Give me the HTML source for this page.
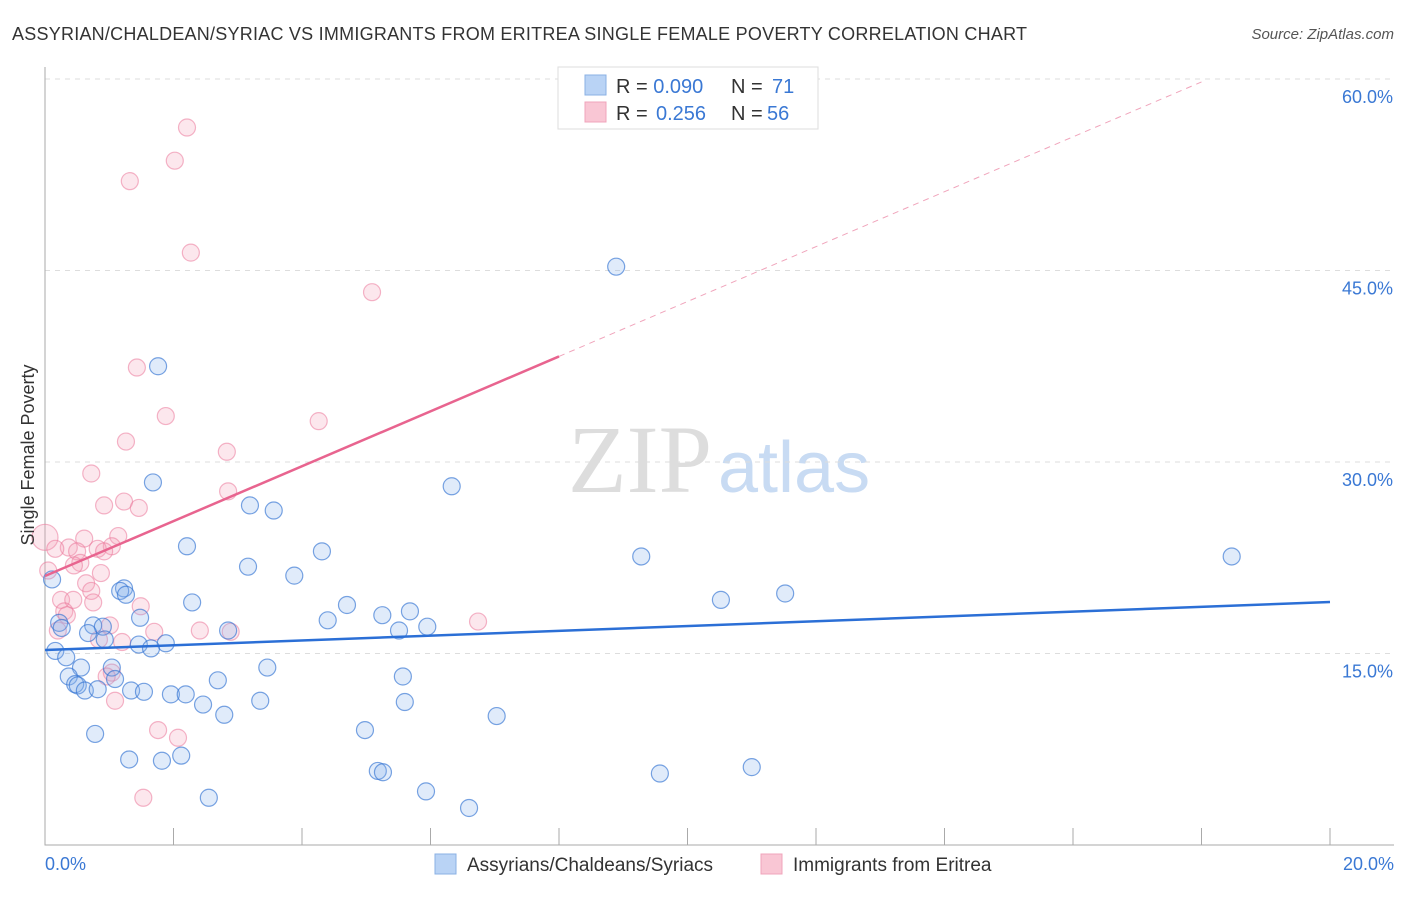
<!DOCTYPE html>
<html><head><meta charset="utf-8"><style>
body{margin:0;background:#fff;font-family:"Liberation Sans",sans-serif}
</style></head><body>
<svg id="c" width="1406" height="892" xmlns="http://www.w3.org/2000/svg">
<text x="12" y="40" font-size="18" fill="#333" textLength="1015">ASSYRIAN/CHALDEAN/SYRIAC VS IMMIGRANTS FROM ERITREA SINGLE FEMALE POVERTY CORRELATION CHART</text>
<text x="1394" y="39" font-size="15" fill="#555" font-style="italic" text-anchor="end">Source: ZipAtlas.com</text>
<text x="712" y="492" font-size="96" fill="#ddd" font-family="Liberation Serif" text-anchor="end">ZIP</text>
<text x="718" y="492" font-size="72" fill="#c8dbf3">atlas</text>
<g id="grid"></g>
<g id="axes"></g>
<g id="pts"></g>
<g id="lines"></g>
<text transform="translate(34,455) rotate(-90)" font-size="18" fill="#333" text-anchor="middle">Single Female Poverty</text>
<text x="45" y="870" font-size="18" fill="#3a78d4">0.0%</text>
<text x="1394" y="870" font-size="18" fill="#3a78d4" text-anchor="end">20.0%</text>
<g>
<rect x="558" y="67" width="260" height="62" fill="#fff" stroke="#ddd"/>
<rect x="585" y="75" width="21" height="20" fill="#b9d3f5" stroke="#8ab0e4"/>
<rect x="585" y="102" width="21" height="20" fill="#f9c6d4" stroke="#f0a4bb"/>
<text x="616" y="93" font-size="20" fill="#333">R = <tspan fill="#3a78d4">0.090</tspan><tspan x="731">N = </tspan><tspan x="772" fill="#3a78d4">71</tspan></text>
<text x="616" y="120" font-size="20" fill="#333">R = <tspan x="656" fill="#3a78d4">0.256</tspan><tspan x="731">N = </tspan><tspan x="767" fill="#3a78d4">56</tspan></text>
</g>
<g>
<rect x="435" y="854" width="21" height="20" fill="#b9d3f5" stroke="#8ab0e4"/>
<text x="467" y="871" font-size="19" fill="#333">Assyrians/Chaldeans/Syriacs</text>
<rect x="761" y="854" width="21" height="20" fill="#f9c6d4" stroke="#f0a4bb"/>
<text x="793" y="871" font-size="19" fill="#333">Immigrants from Eritrea</text>
</g>
</svg>
<script>
const yTicks=[15,30,45,60];
const yTickLabels=["15.0%","30.0%","45.0%","60.0%"];
const xTicks=[0,2,4,6,8,10,12,14,16,18,20];
const blueX=[8.89,1.76,1.68,6.33,3.19,3.56,2.21,4.31,9.28,18.47,3.16,3.88,0.11,1.23,1.17,1.26,11.52,10.52,2.29,4.70,5.25,5.68,1.48,4.40,0.22,0.26,0.75,0.90,2.85,5.95,5.51,0.67,0.93,1.88,1.46,1.65,0.16,0.33,0.56,1.04,3.46,0.37,5.57,1.09,2.69,0.47,0.51,0.62,0.82,1.34,1.54,1.96,2.19,3.35,2.46,5.60,2.79,7.03,4.98,0.78,2.12,1.31,1.82,11.0,5.18,5.26,9.57,2.55,5.93,6.60];
const blueY=[45.3,37.5,28.4,28.1,26.6,26.2,23.4,23.0,22.6,22.6,21.8,21.1,20.8,20.1,19.9,19.6,19.7,19.2,19.0,18.8,18.0,18.3,17.8,17.6,17.4,17.0,17.2,17.1,16.8,17.1,16.8,16.6,16.1,15.8,15.7,15.4,15.2,14.7,13.9,13.9,13.9,13.2,13.2,13.0,12.9,12.6,12.5,12.1,12.2,12.1,12.0,11.8,11.8,11.3,11.0,11.2,10.2,10.1,9.0,8.7,7.0,6.7,6.6,6.1,5.8,5.7,5.6,3.7,4.2,2.9];
const pinkX=[2.21,2.02,1.32,2.27,5.09,1.43,1.88,4.26,1.26,2.83,0.72,2.85,1.23,0.92,1.46,0.0,1.14,0.61,1.04,0.37,0.16,0.50,0.82,0.92,0.55,0.45,0.05,0.87,0.64,0.72,0.25,0.44,0.75,0.30,1.49,0.34,0.20,6.74,2.89,2.41,1.70,1.01,1.20,0.84,1.04,0.96,1.09,1.76,2.07,1.53];
const pinkY=[56.2,53.6,52.0,46.4,43.3,37.4,33.6,33.2,31.6,30.8,29.1,27.7,26.9,26.6,26.4,24.1,24.2,24.0,23.4,23.3,23.2,23.0,23.2,23.0,22.1,21.9,21.5,21.3,20.5,19.9,19.2,19.2,19.0,18.3,18.7,18.0,16.8,17.5,16.7,16.8,16.7,17.2,15.9,16.1,13.5,13.2,11.3,9.0,8.4,3.7];
const blueTrend=[15.27,19.03];
const pinkTrend=[21.07,2.15];
const X=v=>45+v/20*1285, Y=v=>845-v/15*191.5;
const NS="http://www.w3.org/2000/svg";
function mk(p,t,a){const e=document.createElementNS(NS,t);for(const k in a)e.setAttribute(k,a[k]);document.getElementById(p).appendChild(e);return e;}
yTicks.forEach((t,i)=>{
 const l=mk('grid','line',{x1:45,x2:1394,y1:Y(t),y2:Y(t),stroke:'#ddd','stroke-dasharray':'5,5'});
 
 
 const tx=mk('grid','text',{x:1393,y:Y(t)+24,'font-size':18,fill:'#3a78d4','text-anchor':'end'});
 tx.textContent=yTickLabels[i];
 
 
});
const ax=mk('axes','path',{d:'M45,67V845H1394',fill:'none',stroke:'#aaa'});


xTicks.forEach(t=>{
 const l=mk('axes','line',{x1:X(t),x2:X(t),y1:828,y2:845,stroke:'#aaa'});
 
 
});
function dots(xs,ys,fill,stroke,name){xs.forEach((x,i)=>{
 const c=mk('pts','circle',{cx:X(x),cy:Y(ys[i]),r:(x===0?13:8.5),fill:fill,stroke:stroke,'stroke-width':1.2});
 
 
});}
dots(pinkX,pinkY,'rgba(244,160,185,0.25)','rgba(235,120,155,0.55)','eritrea-point');
dots(blueX,blueY,'rgba(130,175,235,0.25)','rgba(50,115,210,0.65)','assyrian-point');
const bl=mk('lines','line',{x1:X(0),y1:Y(blueTrend[0]),x2:X(20),y2:Y(blueTrend[1]),stroke:'#2b6fd6','stroke-width':2.5});


const pl=mk('lines','line',{x1:X(0),y1:Y(pinkTrend[0]),x2:X(8),y2:Y(pinkTrend[0]+8*pinkTrend[1]),stroke:'#e8648f','stroke-width':2.5});


const pd=mk('lines','line',{x1:X(8),y1:Y(pinkTrend[0]+8*pinkTrend[1]),x2:X(18),y2:Y(pinkTrend[0]+18*pinkTrend[1]),stroke:'#f0a4bb','stroke-width':1,'stroke-dasharray':'6,5'});


</script>
</body></html>
